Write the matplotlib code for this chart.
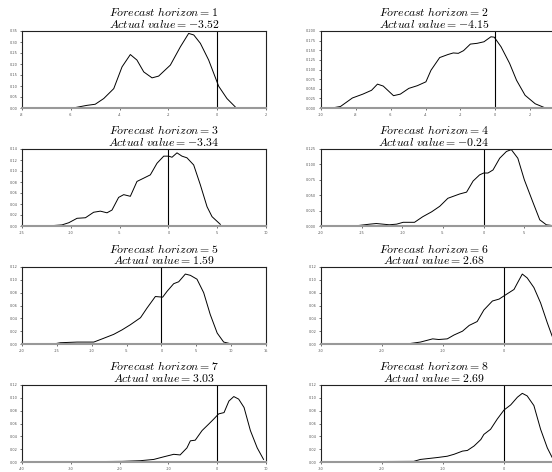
import numpy as np
import matplotlib
matplotlib.use("Agg")
import matplotlib.pyplot as plt

plt.rcParams['mathtext.fontset'] = 'cm'

horizons = [1, 2, 3, 4, 5, 6, 7, 8]
actual_values = ["-3.52", "-4.15", "-3.34", "-0.24", "1.59", "2.68", "3.03", "2.69"]

x1 = [-5.91, -5.34, -5.0, -4.65, -4.24, -3.9, -3.56, -3.29, -3.01, -2.67, -2.4, -1.92, -1.51, -1.17, -0.96, -0.69, -0.35, 0.06, 0.4, 0.74]
y1 = [0.0, 0.012, 0.017, 0.043, 0.088, 0.187, 0.243, 0.218, 0.164, 0.137, 0.145, 0.195, 0.278, 0.339, 0.332, 0.294, 0.218, 0.099, 0.043, 0.005]

x2 = [-9.37, -8.88, -8.2, -7.6, -7.1, -6.76, -6.43, -5.84, -5.45, -4.96, -4.47, -3.98, -3.69, -3.19, -2.71, -2.41, -2.12, -1.82, -1.43, -1.04, -0.65, -0.25, -0.06, 0.33, 0.82, 1.22, 1.71, 2.29, 2.88]
y2 = [0.0, 0.004, 0.026, 0.036, 0.046, 0.062, 0.057, 0.032, 0.036, 0.051, 0.058, 0.068, 0.098, 0.131, 0.139, 0.143, 0.142, 0.149, 0.166, 0.168, 0.172, 0.185, 0.184, 0.159, 0.116, 0.072, 0.033, 0.011, 0.0]

x3 = [-12.44, -10.9, -10.2, -9.36, -8.5, -7.66, -6.97, -6.29, -5.78, -5.1, -4.58, -3.9, -3.22, -2.53, -1.85, -1.17, -0.48, 0.03, 0.37, 0.88, 1.39, 1.9, 2.59, 3.27, 3.96, 4.47, 5.32]
y3 = [0.0, 0.002, 0.006, 0.014, 0.015, 0.025, 0.027, 0.024, 0.029, 0.052, 0.057, 0.054, 0.081, 0.087, 0.093, 0.114, 0.127, 0.127, 0.125, 0.133, 0.127, 0.124, 0.111, 0.075, 0.035, 0.017, 0.003]

x4 = [-15.9, -14.0, -13.2, -11.6, -10.7, -9.9, -8.5, -7.5, -6.4, -5.4, -4.4, -2.95, -2.1, -1.3, -0.5, 0.0, 0.53, 1.15, 1.97, 2.8, 3.4, 4.2, 5.0, 6.1, 6.9, 7.7, 8.85]
y4 = [0.0, 0.003, 0.004, 0.002, 0.003, 0.006, 0.006, 0.015, 0.023, 0.032, 0.045, 0.052, 0.055, 0.073, 0.083, 0.086, 0.086, 0.091, 0.110, 0.121, 0.124, 0.110, 0.075, 0.037, 0.010, 0.002, 0.0]

x5 = [-15.46, -14.5, -12.1, -9.7, -8.5, -6.85, -5.65, -4.46, -3.0, -2.07, -0.87, 0.18, 0.8, 1.76, 2.48, 3.43, 4.15, 5.1, 6.06, 7.0, 8.0, 8.93, 10.1]
y5 = [0.0, 0.002, 0.003, 0.003, 0.008, 0.015, 0.022, 0.030, 0.041, 0.056, 0.074, 0.073, 0.082, 0.094, 0.097, 0.109, 0.107, 0.101, 0.080, 0.046, 0.017, 0.003, 0.0]

x6 = [-26.8, -15.6, -13.7, -11.7, -10.7, -9.3, -8.2, -6.8, -5.7, -4.4, -3.3, -1.9, -0.8, 0.0, 1.64, 2.2, 3.0, 3.8, 4.9, 6.0, 7.1, 7.9, 8.6, 9.5]
y6 = [0.0, 0.0005, 0.003, 0.008, 0.007, 0.008, 0.014, 0.020, 0.029, 0.035, 0.053, 0.067, 0.070, 0.075, 0.085, 0.095, 0.109, 0.103, 0.088, 0.064, 0.033, 0.012, 0.004, 0.0]

x7 = [-27.4, -19.5, -15.8, -13.0, -11.0, -8.9, -7.6, -6.2, -5.5, -4.5, -3.1, -1.75, -0.7, 0.3, 1.4, 2.4, 3.4, 4.4, 5.5, 6.8, 8.2, 9.5]
y7 = [0.0005, 0.001, 0.002, 0.004, 0.008, 0.012, 0.011, 0.022, 0.033, 0.034, 0.049, 0.059, 0.067, 0.075, 0.077, 0.095, 0.102, 0.098, 0.085, 0.049, 0.022, 0.004]

x8 = [-27.3, -14.8, -13.7, -10.9, -9.3, -8.2, -6.8, -6.0, -4.9, -3.8, -3.3, -2.2, -1.1, 0.0, 1.1, 2.2, 3.0, 3.8, 4.9, 6.0, 7.1, 7.9, 8.6, 9.5]
y8 = [0.0005, 0.001, 0.004, 0.007, 0.009, 0.012, 0.017, 0.018, 0.025, 0.035, 0.043, 0.051, 0.067, 0.081, 0.089, 0.101, 0.107, 0.103, 0.088, 0.051, 0.022, 0.007, 0.003, 0.0]

xs = [x1, x2, x3, x4, x5, x6, x7, x8]
ys = [y1, y2, y3, y4, y5, y6, y7, y8]

xlims = [(-8, 2), (-10, 4), (-15, 10), (-20, 10), (-20, 15), (-30, 10), (-40, 10), (-30, 10)]
# right-column panels run past the figure's right edge; only visible tick labels are kept
xticks = [np.arange(-8, 2.1, 2), np.arange(-10, 2.1, 2), np.arange(-15, 10.1, 5), np.arange(-20, 5.1, 5),
          np.arange(-20, 15.1, 5), np.arange(-30, 0.1, 10), np.arange(-40, 10.1, 10), np.arange(-30, 0.1, 10)]
ylims = [0.35, 0.2, 0.14, 0.125, 0.12, 0.12, 0.12, 0.12]
yticks = [np.arange(0, 0.351, 0.05), np.arange(0, 0.2001, 0.025), np.arange(0, 0.1401, 0.02), np.arange(0, 0.1251, 0.025),
          np.arange(0, 0.1201, 0.02), np.arange(0, 0.1201, 0.02), np.arange(0, 0.1201, 0.02), np.arange(0, 0.1201, 0.02)]
yfmt = ["%.2f", "%.3f", "%.2f", "%.3f", "%.2f", "%.2f", "%.2f", "%.2f"]

W, H = 552, 472
fig = plt.figure(figsize=(W / 100, H / 100), dpi=100)

ax_w, ax_h = 244, 77
for i in range(8):
    row, col = divmod(i, 2)
    left = 22 if col == 0 else 321
    top = 31 + 118 * row
    ax = fig.add_axes([left / W, 1 - (top + ax_h) / H, ax_w / W, ax_h / H])
    ax.plot(xs[i], ys[i], color='black', lw=0.7)
    ax.axvline(0, color='black', lw=0.8)
    ax.set_xlim(*xlims[i])
    ax.set_ylim(0, ylims[i])
    ax.set_xticks(xticks[i])
    ax.set_xticklabels(["%g" % t for t in xticks[i]])
    ax.set_yticks(yticks[i])
    ax.set_yticklabels([yfmt[i] % t for t in yticks[i]])
    ax.tick_params(labelsize=2.5, labelcolor='#555555', length=1.5, width=0.4, pad=2)
    for s in ax.spines.values():
        s.set_linewidth(0.8)
        s.set_color('#222222')
    ax.spines['bottom'].set_color('#999999')
    ax.spines['bottom'].set_linewidth(1.5)
    cx = (22 + 144 - 2) if col == 0 else 434
    fig.text(cx / W, 1 - 13 / H - row * 118 / H, r'$Forecast\ horizon = %d$' % horizons[i],
             ha='center', va='center', fontsize=8.5)
    fig.text(cx / W, 1 - 24.5 / H - row * 118 / H, r'$Actual\ value = %s$' % actual_values[i],
             ha='center', va='center', fontsize=8.5)

fig.savefig('out.png', dpi=100)
